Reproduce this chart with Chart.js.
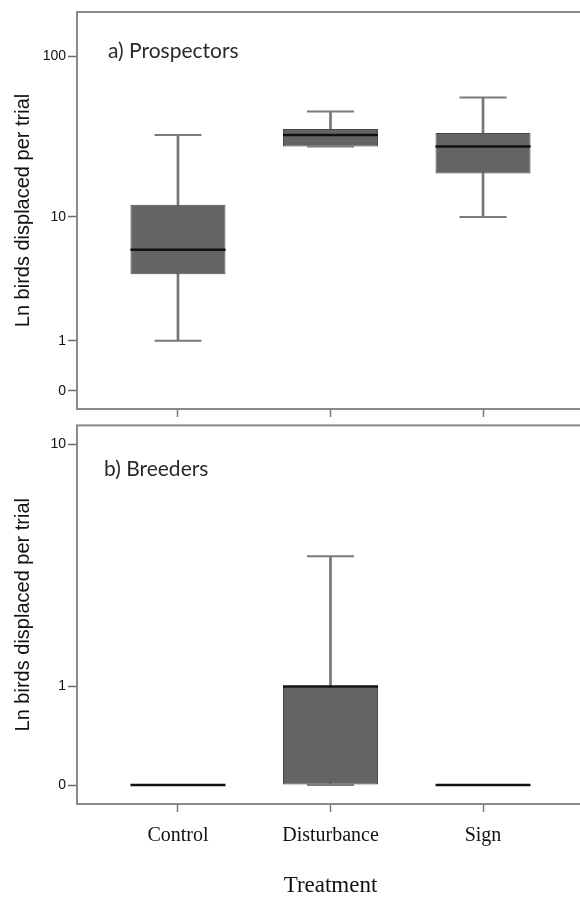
<!DOCTYPE html>
<html>
<head>
<meta charset="utf-8">
<script src="https://cdn.jsdelivr.net/npm/chart.js@4.4.1/dist/chart.umd.min.js"></script>
<style>
  html, body { margin: 0; padding: 0; background: #fff; overflow: hidden; }
  #wrap { position: relative; width: 580px; height: 898px; overflow: hidden; }
  #top { position: absolute; left: 0; top: 0; }
  #bottom { position: absolute; left: 0; top: 415px; }
</style>
</head>
<body>
<div id="wrap">
  <canvas id="top" width="590" height="420"></canvas>
  <canvas id="bottom" width="590" height="483"></canvas>
</div>
<script>
const categories = ['Control', 'Disturbance', 'Sign'];

// a) Prospectors - birds displaced per trial (box plot stats)
const prospMin = [1, 28, 10];
const prospQ1 = [4, 28, 19];
const prospMedian = [6, 33, 28];
const prospQ3 = [12, 36, 34];
const prospMax = [33, 46, 56];

// b) Breeders
const breedMin = [0, 0, 0];
const breedQ1 = [0, 0, 0];
const breedMedian = [0, 1, 0];
const breedQ3 = [0, 1, 0];
const breedMax = [0, 4, 0];

const topTicks = [0, 1, 10, 100];
const bottomTicks = [0, 1, 10];

// axis is log10(n + 1)
const tf = v => Math.log10(v + 1);

const framePlugin = {
  id: 'frame',
  beforeDatasetsDraw(chart) {
    const { ctx, chartArea: a } = chart;
    ctx.save();
    ctx.strokeStyle = '#8a8a8a';
    ctx.lineWidth = 2;
    ctx.strokeRect(a.left, a.top, a.right - a.left, a.bottom - a.top);
    ctx.restore();
  }
};

const panelLabel = {
  id: 'panelLabel',
  afterDraw(chart, args, opts) {
    const { ctx, chartArea: a } = chart;
    ctx.save();
    ctx.font = '21px Lato, "Open Sans", sans-serif';
    ctx.fillStyle = '#2a2a2a';
    ctx.textBaseline = 'alphabetic';
    ctx.fillText(opts.text, a.left + opts.dx, a.top + opts.dy);
    ctx.restore();
  }
};

function boxChart(id, s, tickVals, yRange, cfg) {
  const idx = categories.map((c, i) => i);
  const datasets = [
    {
      type: 'bar', label: 'whiskers', grouped: false, order: 4,
      data: idx.map(i => ({ x: i, y: [tf(s.min[i]), tf(s.max[i])] })),
      backgroundColor: '#767676', barThickness: 2
    },
    {
      type: 'bar', label: 'boxes', grouped: false, order: 3,
      data: idx.map(i => ({ x: i, y: [tf(s.q1[i]), tf(s.q3[i])] })),
      backgroundColor: '#646464', borderColor: '#4a4a4a', borderWidth: 1,
      borderSkipped: false, barPercentage: 0.623, categoryPercentage: 1
    },
    {
      type: 'scatter', label: 'caps', order: 2,
      data: idx.map(i => ({ x: i, y: tf(s.min[i]) }))
        .concat(idx.map(i => ({ x: i, y: tf(s.max[i]) }))),
      pointStyle: 'line', pointRadius: 23.5, pointBorderWidth: 2,
      pointBorderColor: '#7a7a7a', pointBackgroundColor: 'rgba(0,0,0,0)'
    },
    {
      type: 'scatter', label: 'median', order: 1,
      data: idx.map(i => ({ x: i, y: tf(s.med[i]) })),
      pointStyle: 'line', pointRadius: 47.5, pointBorderWidth: 2.5,
      pointBorderColor: '#111', pointBackgroundColor: 'rgba(0,0,0,0)'
    }
  ];

  return new Chart(document.getElementById(id), {
    type: 'bar',
    data: { datasets },
    plugins: [framePlugin, panelLabel],
    options: {
      responsive: false,
      animation: false,
      events: [],
      layout: { autoPadding: false, padding: { top: cfg.padTop, right: 6, left: 0, bottom: 0 } },
      plugins: {
        legend: { display: false },
        tooltip: { enabled: false },
        panelLabel: cfg.label
      },
      scales: {
        x: {
          type: 'linear', min: -0.662, max: 2.662, offset: false,
          afterBuildTicks: sc => { sc.ticks = idx.map(i => ({ value: i })); },
          afterFit: sc => { sc.height = cfg.xHeight; },
          ticks: {
            display: cfg.showX, autoSkip: false, maxRotation: 0,
            callback: (v, i) => categories[i],
            font: { family: '"Liberation Serif", "Times New Roman", serif', size: 20 },
            color: '#111', padding: 12
          },
          grid: { display: true, offset: false, drawOnChartArea: false, tickLength: 8, tickColor: '#7a7a7a', tickWidth: 1.5 },
          border: { display: false },
          title: {
            display: cfg.showX, text: 'Treatment', color: '#111',
            font: { family: '"Liberation Serif", "Times New Roman", serif', size: 23, lineHeight: 1 },
            padding: { top: 0, bottom: 1 }
          }
        },
        y: {
          type: 'linear', min: yRange[0], max: yRange[1], bounds: 'data',
          afterBuildTicks: sc => { sc.ticks = tickVals.map(v => ({ value: tf(v) })); },
          afterFit: sc => { sc.width = 77; },
          ticks: {
            callback: (v, i) => String(tickVals[i]),
            font: { family: '"Liberation Sans", Arial, sans-serif', size: 14 },
            color: '#111', padding: 2
          },
          grid: { display: true, drawOnChartArea: false, tickLength: 9, tickColor: '#6a6a6a', tickWidth: 1.5 },
          border: { display: false },
          title: {
            display: true, text: 'Ln birds displaced per trial', color: '#111',
            font: { family: '"Liberation Sans", Arial, sans-serif', size: 20 },
            padding: { top: 11, bottom: 0 }
          }
        }
      }
    }
  });
}

boxChart('top',
  { min: prospMin, q1: prospQ1, med: prospMedian, q3: prospQ3, max: prospMax },
  topTicks, [-0.108, 2.268],
  { padTop: 12, xHeight: 11, showX: false, label: { text: 'a) Prospectors', dx: 31, dy: 46 } });

boxChart('bottom',
  { min: breedMin, q1: breedQ1, med: breedMedian, q3: breedQ3, max: breedMax },
  bottomTicks, [-0.058, 1.099],
  { padTop: 8, xHeight: 94, showX: true, label: { text: 'b) Breeders', dx: 27, dy: 51 } });
</script>
</body>
</html>
